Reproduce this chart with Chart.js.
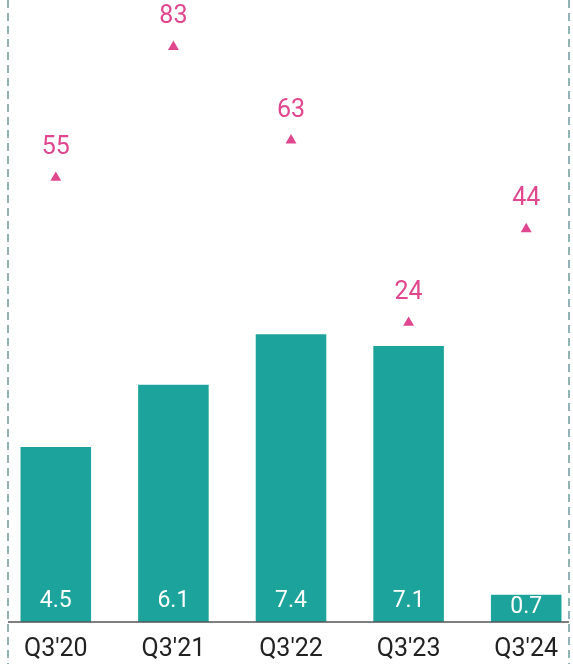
<!DOCTYPE html>
<html>
<head>
<meta charset="utf-8">
<script src="https://cdn.jsdelivr.net/npm/chart.js@4"></script>
<style>
html,body{margin:0;padding:0;background:#fff;}
#box{position:relative;width:573px;height:664px;overflow:hidden;}
#c{position:absolute;left:-3px;top:0;}
</style>
</head>
<body>
<div id="box"><canvas id="c" width="588" height="664"></canvas></div>
<script>
// values
const quarters=["Q3'20","Q3'21","Q3'22","Q3'23","Q3'24"];
const barValues=[4.5,6.1,7.4,7.1,0.7];
const markerValues=[55,83,63,24,44];

const teal="#1ca39b";
const pink="#e0478e";

const labelsPlugin={
id:"labels",
afterDatasetsDraw(chart){
const ctx=chart.ctx;
ctx.save();
ctx.textAlign="center";
ctx.textBaseline="middle";

// bar values, white, near the bottom of each bar (middle of a short bar)
ctx.font="23px Roboto";
ctx.fillStyle="#ffffff";
chart.getDatasetMeta(0).data.forEach((bar,i)=>{
const y=Math.max(bar.base-21,(bar.y+bar.base)/2-1);
ctx.fillText(barValues[i].toFixed(1),bar.x,y);
});

// marker values, pink, above each triangle
ctx.font="25px Roboto";
ctx.fillStyle=pink;
chart.getDatasetMeta(1).data.forEach((pt,i)=>{
ctx.fillText(String(markerValues[i]),pt.x,pt.y-30);
});

// baseline between the two dashed frame lines
const left=11,right=572;
const y0=chart.scales.y.getPixelForValue(0);
ctx.strokeStyle="#555555";
ctx.lineWidth=1.5;
ctx.beginPath();
ctx.moveTo(left,y0);
ctx.lineTo(right,y0);
ctx.stroke();

// dashed frame
ctx.strokeStyle="#6f9a9a";
ctx.lineWidth=1.5;
ctx.setLineDash([8,5]);
[left,right].forEach(x=>{
ctx.beginPath();
ctx.moveTo(x,0);
ctx.lineTo(x,chart.height);
ctx.stroke();
});
ctx.restore();
}
};

new Chart(document.getElementById("c"),{
data:{
labels:quarters,
datasets:[
{
type:"bar",
data:barValues,
backgroundColor:teal,
yAxisID:"y",
barPercentage:0.6,
categoryPercentage:1,
order:2
},
{
type:"line",
data:markerValues,
showLine:false,
pointStyle:"triangle",
pointRadius:6.3,
pointBackgroundColor:pink,
pointBorderColor:pink,
pointBorderWidth:0,
yAxisID:"y2",
clip:false,
order:1
}
]
},
options:{
responsive:false,
animation:false,
layout:{autoPadding:false,padding:0},
plugins:{legend:{display:false},tooltip:{enabled:false}},
scales:{
x:{
grid:{display:false,drawTicks:false},
border:{display:false},
ticks:{color:"#222222",font:{family:"Roboto",size:25},padding:13},
afterFit(scale){scale.height=42;}
},
y:{display:false,min:0,max:16},
y2:{display:false,min:-40,max:93}
}
},
plugins:[labelsPlugin]
});
</script>
</body>
</html>
